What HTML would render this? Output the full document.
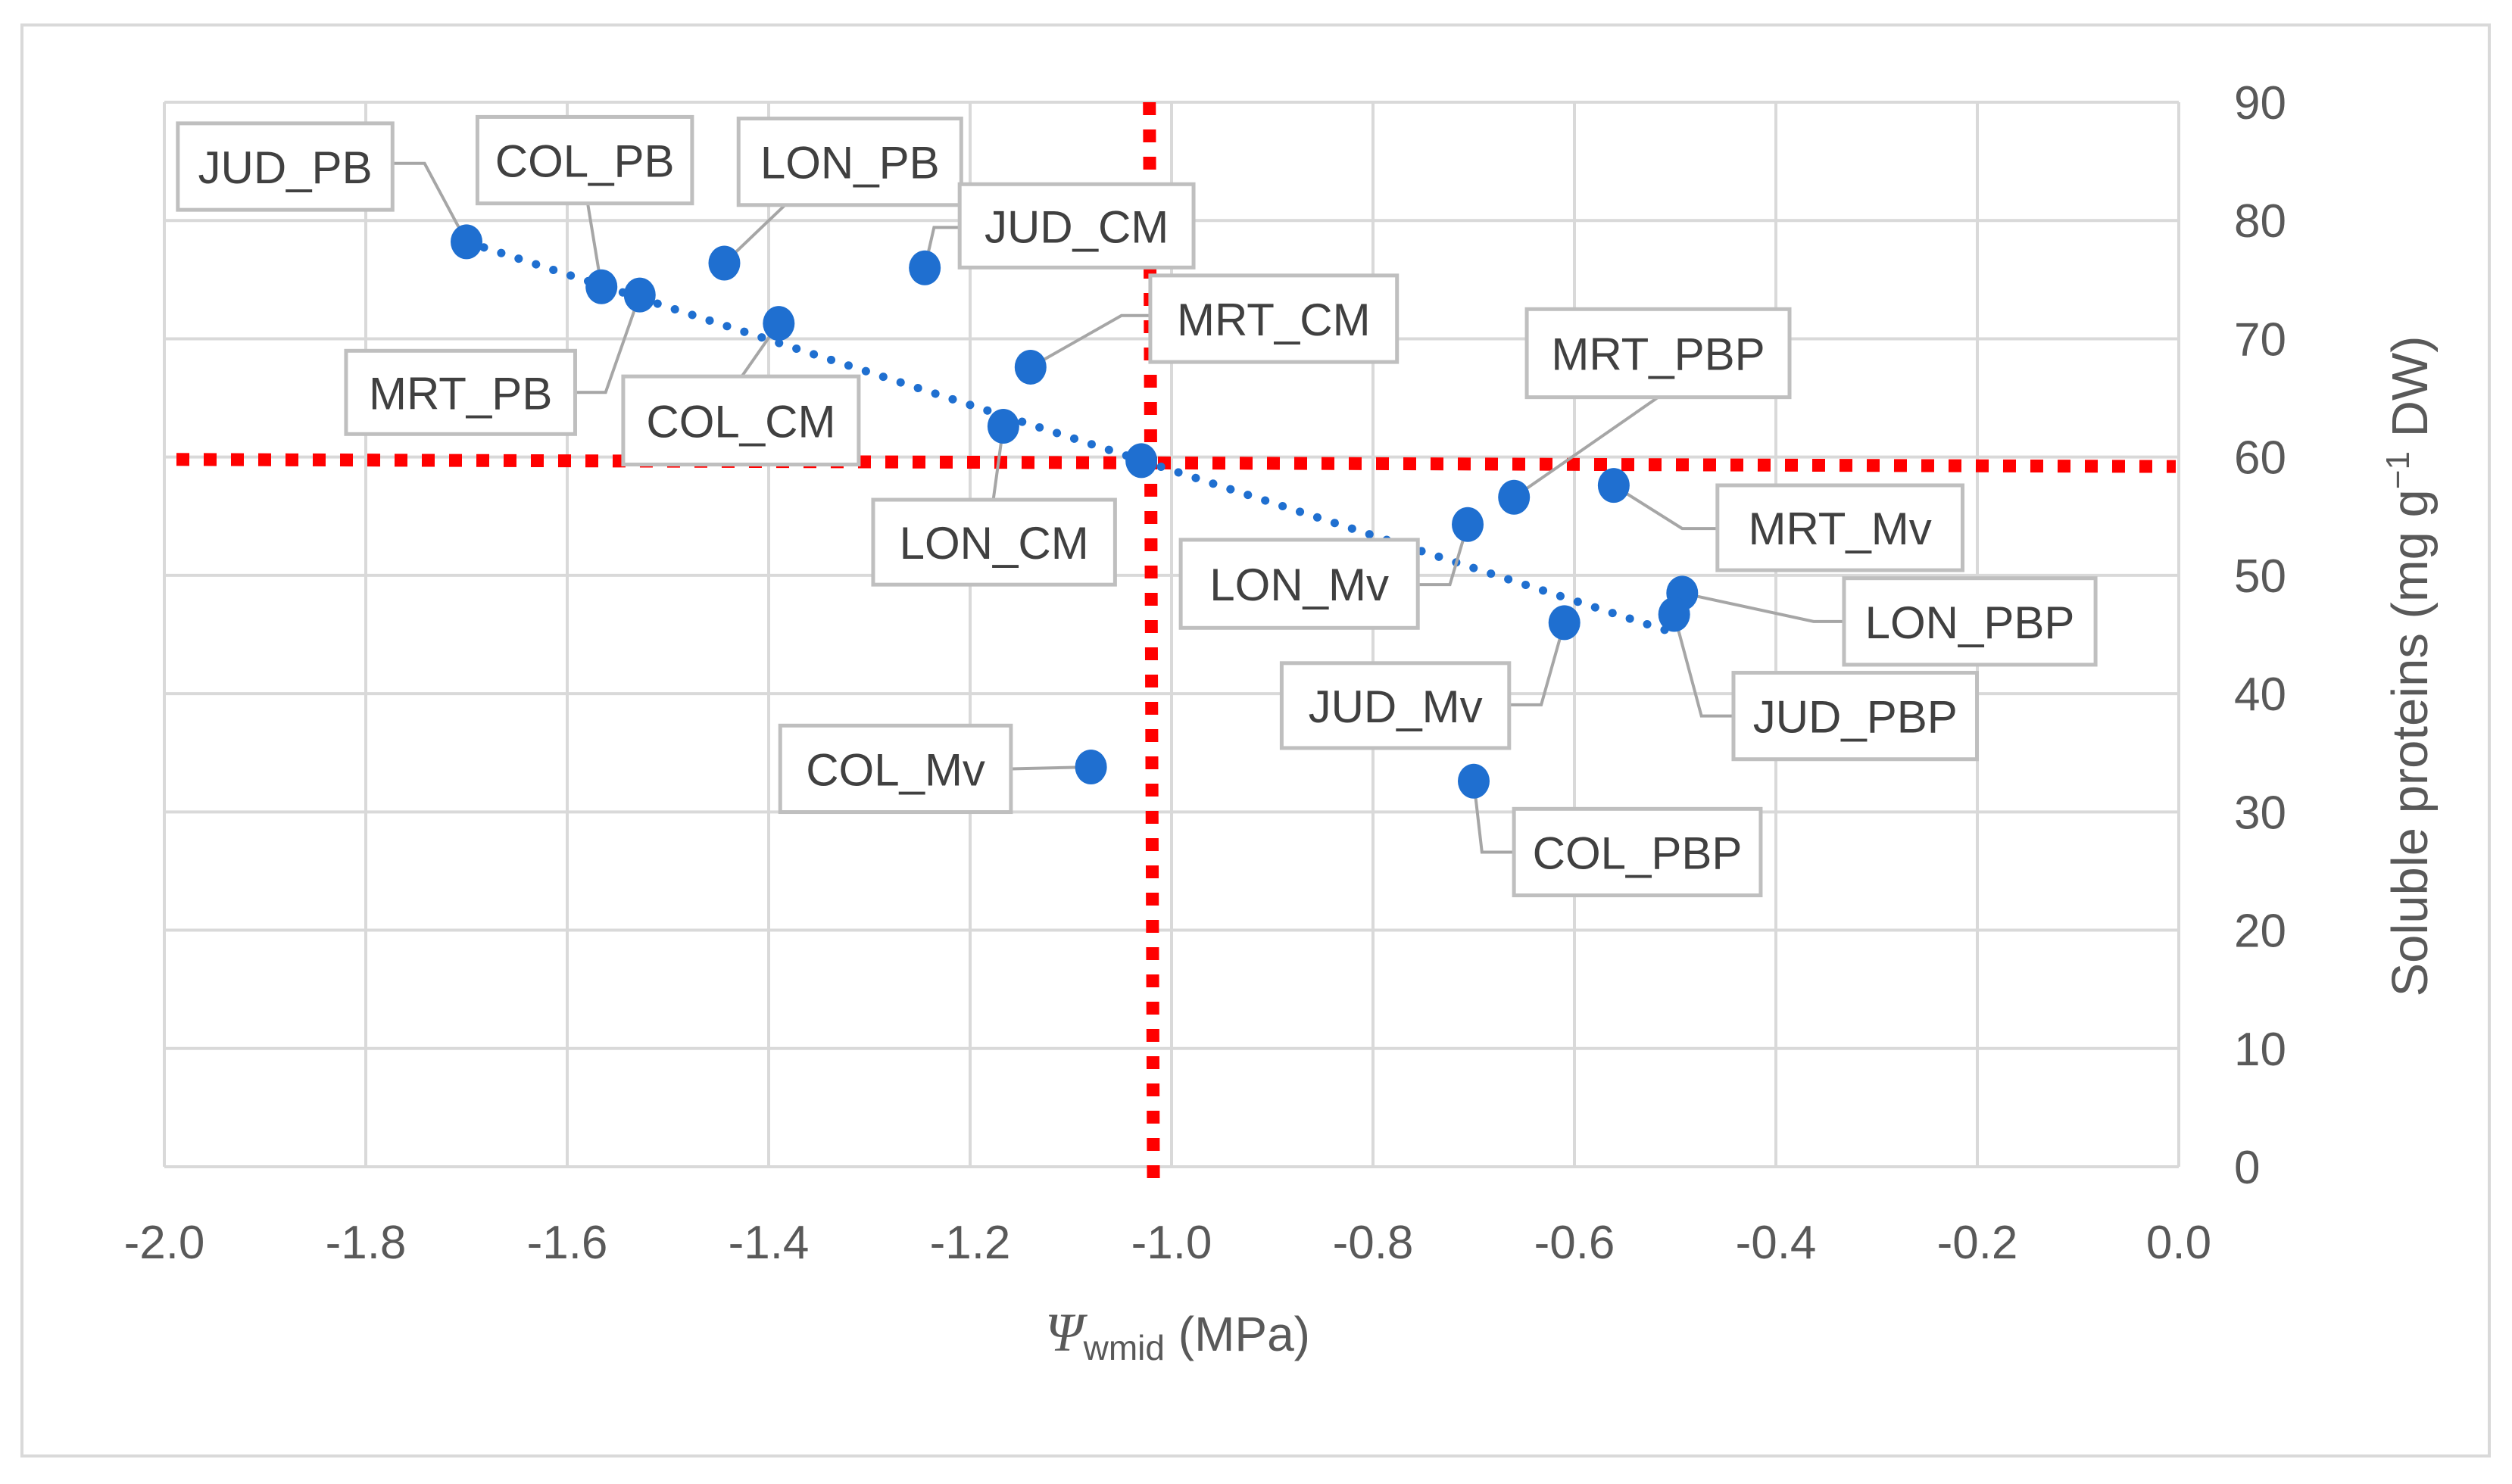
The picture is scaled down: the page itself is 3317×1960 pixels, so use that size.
<!DOCTYPE html>
<html><head><meta charset="utf-8"><style>
html,body{margin:0;padding:0;background:#fff;}
svg{display:block;font-family:"Liberation Sans",sans-serif;}
</style></head><body>
<svg id="chart" width="3317" height="1960" viewBox="0 0 3317 1960" xmlns="http://www.w3.org/2000/svg">
<rect x="29" y="33" width="3258" height="1890" fill="#fff" stroke="#d9d9d9" stroke-width="4"/>
<g id="grid"></g>
<g id="ticks"></g>
<g id="refs"></g>
<g id="trend"></g>
<g id="leaders"></g>
<g id="points"></g>
<g id="labels"></g>
<text x="1555" y="1784" font-size="64" fill="#595959" text-anchor="middle"><tspan font-family="Liberation Serif" font-style="italic" font-size="72">Ψ</tspan><tspan font-size="46" dy="12">wmid</tspan><tspan dy="-12"> (MPa)</tspan></text>
<text transform="translate(3205,880) rotate(-90)" font-size="67" fill="#595959" text-anchor="middle">Soluble proteins (mg g<tspan font-size="44" dy="-24">−1</tspan><tspan dy="24"> DW)</tspan></text>
</svg>
<script>
const xTicks=[-2.0,-1.8,-1.6,-1.4,-1.2,-1.0,-0.8,-0.6,-0.4,-0.2,0.0];
const xTickLabels=["-2.0","-1.8","-1.6","-1.4","-1.2","-1.0","-0.8","-0.6","-0.4","-0.2","0.0"];
const yTicks=[0,10,20,30,40,50,60,70,80,90];
const yTickLabels=["0","10","20","30","40","50","60","70","80","90"];
const names=["JUD_PB","COL_PB","MRT_PB","LON_PB","COL_CM","JUD_CM","MRT_CM","LON_CM","","COL_Mv","LON_Mv","MRT_PBP","MRT_Mv","JUD_Mv","LON_PBP","JUD_PBP","COL_PBP"];
const psiValues=[-1.70,-1.566,-1.528,-1.444,-1.39,-1.245,-1.14,-1.167,-1.03,-1.08,-0.706,-0.66,-0.561,-0.61,-0.493,-0.501,-0.70];
const proteinValues=[78.2,74.4,73.7,76.4,71.3,76.0,67.6,62.6,59.7,33.8,54.3,56.6,57.6,46.0,48.5,46.7,32.6];
const trendX=[-1.70,-0.50];
const trendY=[78.2,45.1];
const refX=[-1.022,-1.018];
const refY=[59.8,59.2];

const X0=217,X1=2877,Y0=1541,Y1=135;
const sx=v=>X0+(v-(-2))/2*(X1-X0);
const sy=v=>Y0-v/90*(Y0-Y1);
const NS="http://www.w3.org/2000/svg";
function mk(tag,parent,attrs){const e=document.createElementNS(NS,tag);for(const k in attrs)e.setAttribute(k,attrs[k]);parent.appendChild(e);return e;}
const grid=document.getElementById('grid'),ticks=document.getElementById('ticks');
xTicks.forEach((t,i)=>{
  const l=mk('line',grid,{x1:sx(t),x2:sx(t),y1:Y1,y2:Y0,stroke:'#d9d9d9','stroke-width':4});
  
  
  const tx=mk('text',ticks,{x:sx(t),y:1662,'font-size':62,fill:'#595959','text-anchor':'middle'});
  
  
  tx.textContent=xTickLabels[i];
});
yTicks.forEach((t,i)=>{
  const l=mk('line',grid,{x1:X0,x2:X1,y1:sy(t),y2:sy(t),stroke:'#d9d9d9','stroke-width':4});
  
  
  const tx=mk('text',ticks,{x:2950,y:sy(t)+22,'font-size':62,fill:'#595959'});
  
  
  tx.textContent=yTickLabels[i];
});
const refs=document.getElementById('refs');
const h=mk('line',refs,{x1:233,x2:2873,y1:sy(refY[0]),y2:sy(refY[1]),stroke:'#ff0000','stroke-width':17,'stroke-dasharray':'17 19'});


const v=mk('line',refs,{x1:sx(refX[0]),x2:sx(refX[1]),y1:Y1,y2:1562,stroke:'#ff0000','stroke-width':17,'stroke-dasharray':'17 19'});


const tr=mk('line',document.getElementById('trend'),{x1:sx(trendX[0]),y1:sy(trendY[0]),x2:sx(trendX[1]),y2:sy(trendY[1]),stroke:'#1f6fd0','stroke-width':11,'stroke-linecap':'round','stroke-dasharray':'0.1 24'});



const S=2.1155;
const boxes={
"JUD_PB":[111,77,134,54,[[245,102],[265,102]]],
"COL_PB":[298,73,134,54,[[367,128]]],
"LON_PB":[461,74,139,54,[[490,128]]],
"JUD_CM":[599,115,146,52,[[599,142],[583,142]]],
"MRT_CM":[718,172,154,54,[[718,197],[700,197]]],
"MRT_PB":[216,219,143,52,[[359,245],[378,245]]],
"COL_CM":[389,235,147,55,[[463,235]]],
"LON_CM":[545,312,151,53,[[620,312]]],
"MRT_PBP":[953,193,164,55,[[1035,248]]],
"LON_Mv":[737,337,148,55,[[885,365],[905,365]]],
"MRT_Mv":[1072,303,153,53,[[1072,330],[1050,330]]],
"LON_PBP":[1151,361,157,54,[[1151,388],[1132,388]]],
"JUD_Mv":[800,414,142,53,[[942,440],[962,440]]],
"JUD_PBP":[1082,420,152,54,[[1082,447],[1062,447]]],
"COL_Mv":[487,453,144,54,[[631,480]]],
"COL_PBP":[945,505,154,54,[[945,532],[925,532]]]
};
const P=document.getElementById('points'),L=document.getElementById('labels'),LD=document.getElementById('leaders');
names.forEach((n,i)=>{
  const cx=sx(psiValues[i]),cy=sy(proteinValues[i]);
  const c=mk('ellipse',P,{cx:cx,cy:cy,rx:21,ry:23,fill:'#1f6fd0'});
  
  
  if(!n||!boxes[n])return;
  const b=boxes[n];
  const pts=b[4].map(p=>(p[0]*S)+','+(p[1]*S)).concat([cx+','+cy]).join(' ');
  const pl=mk('polyline',LD,{points:pts,fill:'none',stroke:'#a6a6a6','stroke-width':4});
  
  
  const g=mk('g',L,{});
  
  
  mk('rect',g,{x:b[0]*S,y:b[1]*S,width:b[2]*S,height:b[3]*S,fill:'#fff',stroke:'#bfbfbf','stroke-width':5});
  const t=mk('text',g,{x:(b[0]+b[2]/2)*S,y:(b[1]+b[3]/2)*S+22,'font-size':60,fill:'#404040','text-anchor':'middle'});
  t.textContent=n;
});
</script>
</body></html>
